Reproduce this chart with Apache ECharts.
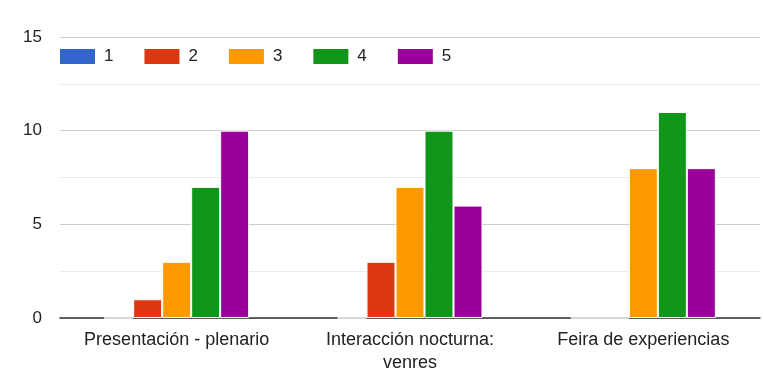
<!DOCTYPE html>
<html><head><meta charset="utf-8">
<script src="https://cdn.jsdelivr.net/npm/echarts@6/dist/echarts.min.js"></script>
<style>html,body{margin:0;padding:0;background:#fff}#c{width:763px;height:388px}</style>
</head><body><div id="c"></div>
<script>
const categories = ['Presentación - plenario', 'Interacción nocturna:\nvenres', 'Feira de experiencias'];
const seriesNames = ['1', '2', '3', '4', '5'];
const s1 = [0, 0, 0];
const s2 = [1, 3, 0];
const s3 = [3, 7, 8];
const s4 = [7, 10, 11];
const s5 = [10, 6, 8];
const yTicks = [0, 5, 10, 15];
const colors = ['#3366cc', '#dc3912', '#ff9900', '#109618', '#990099'];
const values = [s1, s2, s3, s4, s5];

const chart = echarts.init(document.getElementById('c'));
chart.setOption({
  animation: false,
  color: colors,
  textStyle: { fontFamily: 'Liberation Sans, Arial, sans-serif' },
  legend: {
    left: 60, top: 48, padding: 0, itemWidth: 35, itemHeight: 15, itemGap: 31,
    icon: 'rect',
    itemStyle: { borderWidth: 0 },
    textStyle: { fontSize: 17, color: '#222', padding: [0, 0, 0, 4] },
    data: seriesNames
  },
  grid: { left: 60, right: 3, top: 37, bottom: 70 },
  xAxis: {
    type: 'category', data: categories,
    axisTick: { show: false },
    axisLine: { lineStyle: { color: '#333', width: 1.5 } },
    axisLabel: { interval: 0, hideOverlap: false, fontSize: 18, color: '#222', margin: 11, lineHeight: 23 }
  },
  yAxis: {
    type: 'value', min: yTicks[0], max: yTicks[yTicks.length - 1], interval: 5,
    axisLine: { show: false }, axisTick: { show: false },
    axisLabel: { fontSize: 17, color: '#222', margin: 18 },
    splitLine: { lineStyle: { color: '#cccccc' } },
    minorTick: { show: false, splitNumber: 2 },
    minorSplitLine: { show: true, lineStyle: { color: '#ebebeb' } }
  },
  series: seriesNames.map((n, i) => ({
    name: n, type: 'bar', data: values[i],
    barWidth: 29, barGap: 0,
    itemStyle: { borderColor: '#fff', borderWidth: 1 }
  }))
});
</script></body></html>
